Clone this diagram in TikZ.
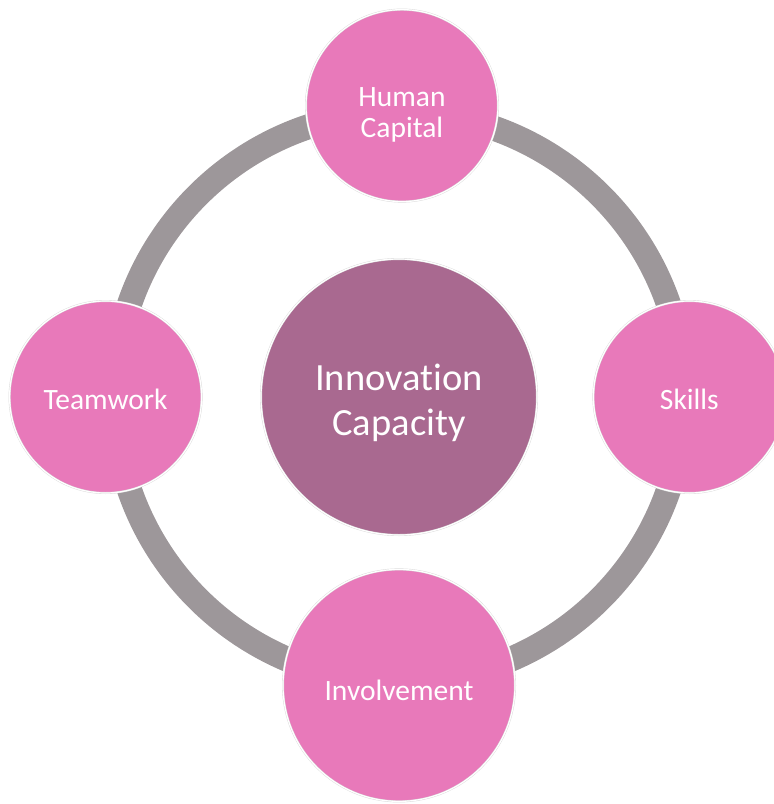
\documentclass[tikz,border=0pt]{standalone}
\usepackage{fontspec}
\setmainfont[Ligatures={NoCommon}]{Carlito}
\usetikzlibrary{positioning}
\definecolor{petal}{RGB}{232,121,186}
\definecolor{hubcol}{RGB}{169,105,144}
\definecolor{ringgray}{RGB}{157,151,154}
\newcommand{\lowr}[1]{\rule{0pt}{#1}}

\begin{document}
\begin{tikzpicture}[x=1pt, y=-1pt, node distance=57pt,
  bubble/.style={circle, fill=petal, draw=gray!30, double=white, double distance=1.2pt, line width=0.4pt, text=white, align=center, inner sep=0pt, minimum size=192pt, font=\fontsize{29.5}{31}\selectfont},
  hub/.style={bubble, fill=hubcol, minimum size=276pt, font=\fontsize{38.5}{45}\selectfont},
  ring/.style={draw=ringgray, line width=25pt}]
		\clip (0,0) rectangle (774,804);
		% Centre
		\node[hub] (IC) at (399,397) {\lowr{38pt}Innovation\\Capacity};
		% Ring
		\draw[ring] (IC.center) circle (285pt);
		% Nodes
		\node[bubble, above=of IC, xshift=3pt] (HC) {\lowr{38pt}Human\\Capital};
		\node[bubble, right=56pt of IC] (Sk) {\lowr{26pt}Skills};
		\node[bubble, left=59pt of IC] (Tw) {\lowr{26pt}Teamwork};
		\node[bubble, below=34pt of IC, minimum size=232pt] (Inv) {\lowr{30pt}Involvement};
\end{tikzpicture}
\end{document}
